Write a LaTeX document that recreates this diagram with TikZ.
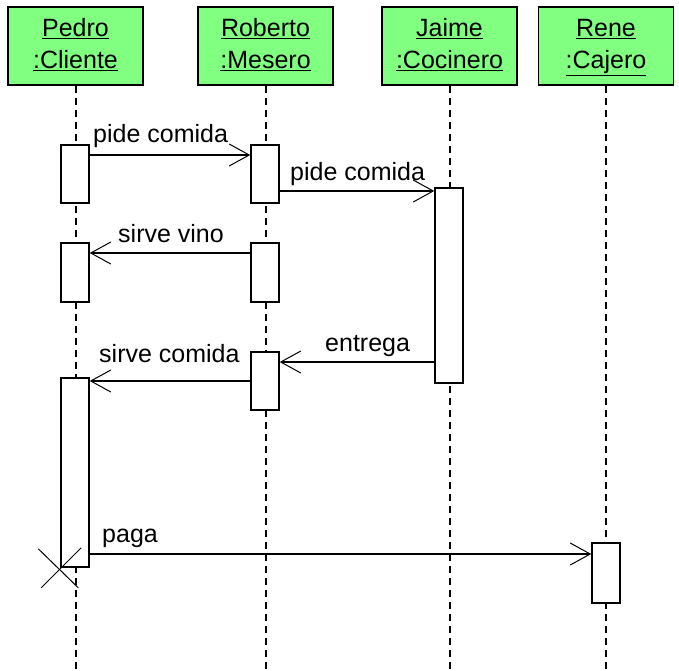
\documentclass[tikz,border=0pt]{standalone}
\usepackage{fontspec}
\setmainfont{Liberation Sans}
\usetikzlibrary{arrows.meta}
\definecolor{headgreen}{RGB}{128,255,128}
\begin{document}
\begin{tikzpicture}[
x=1pt,
y=-1pt,
every node/.style={font=\fontsize{25}{32}\selectfont},
head/.style={draw,line width=1.5pt,fill=headgreen,minimum width=135pt,minimum height=78pt,align=center,inner sep=0pt},
life/.style={line width=2pt,dash pattern=on 7pt off 5pt},
act/.style={draw,line width=1.5pt,fill=white,minimum width=28pt,inner sep=0pt},
msg/.style={line width=1.5pt,-{Straight Barb[length=20pt,width=22pt,line width=1pt]}},
lbl/.style={anchor=base west,inner sep=0pt}
]
\useasboundingbox (0,0) rectangle (679,670);

\node[head] (pedro) at (75.5,46) {\underline{Pedro}\strut\\\underline{:Cliente}\strut};
\node[head] (roberto) at (265.5,46) {\underline{Roberto}\strut\\\underline{:Mesero}\strut};
\node[head] (jaime) at (449.5,46) {\underline{Jaime}\strut\\\underline{:Cocinero}\strut};
\node[head] (rene) at (606,46) {\underline{Rene}\strut\\\underline{:Cajero}\strut};

\draw[life] (pedro.south) -- (pedro.south |- 0,670);
\draw[life] (roberto.south) -- (roberto.south |- 0,670);
\draw[life] (jaime.south) -- (jaime.south |- 0,670);
\draw[life] (rene.south) -- (rene.south |- 0,670);

\node[act,minimum height=58pt] (p1) at (75,174) {};
\node[act,minimum height=59pt] (p2) at (75,272.5) {};
\node[act,minimum height=189pt] (p3) at (75,472.5) {};
\node[act,minimum height=58pt] (r1) at (265,174) {};
\node[act,minimum height=59pt] (r2) at (265,272.5) {};
\node[act,minimum height=58pt] (r3) at (265,381) {};
\node[act,minimum height=195pt] (j1) at (449,285.5) {};
\node[act,minimum height=60pt] (c1) at (606,573) {};

\draw[msg] (p1.east |- 0,155) -- (r1.west |- 0,155);
\draw[msg] (r1.east |- 0,191) -- (j1.west |- 0,191);
\draw[msg] (r2.west |- 0,253) -- (p2.east |- 0,253);
\draw[msg] (j1.west |- 0,362) -- (r3.east |- 0,362);
\draw[msg] (r3.west |- 0,381) -- (p3.east |- 0,381);
\draw[msg] (p3.east |- 0,554) -- (c1.west |- 0,554);

\node[lbl] (l1) at (93,142) {pide comida};
\node[lbl] (l2) at (290,180) {pide comida};
\node[lbl] (l3) at (118,242) {sirve vino};
\node[lbl] (l4) at (325,351) {entrega};
\node[lbl] (l5) at (99,362) {sirve comida};
\node[lbl] (l6) at (102,542) {paga};

\draw[line width=1pt] ([shift={(-22,-19)}]p3.south west) -- ([shift={(18,20)}]p3.south west);
\draw[line width=1pt] ([shift={(21,-20)}]p3.south west) -- ([shift={(-19,20)}]p3.south west);
\end{tikzpicture}
\end{document}
